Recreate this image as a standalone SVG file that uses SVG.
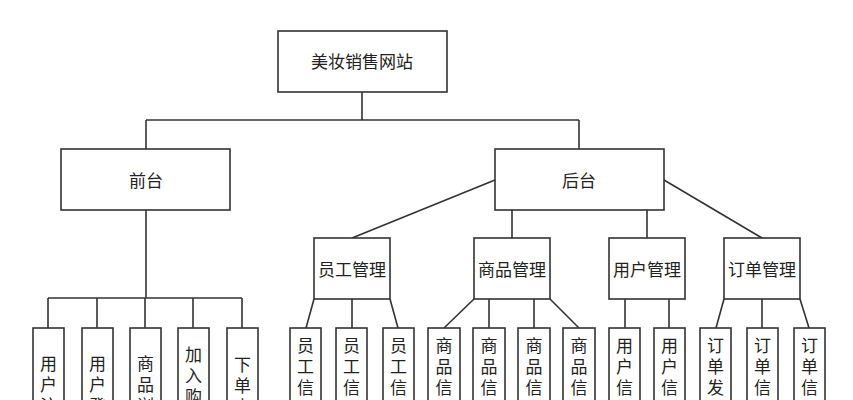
<svg xmlns="http://www.w3.org/2000/svg" width="853" height="400" viewBox="0 0 853 400">
<style>
.n rect{fill:#fff;stroke:#333;stroke-width:1.6}
.c line{stroke:#333;stroke-width:1.6}
text{font-family:"Noto Sans CJK SC","Noto Sans CJK JP",sans-serif;font-size:17px;fill:#222;text-anchor:middle;dominant-baseline:central}
text.v{writing-mode:vertical-rl;text-orientation:upright;text-anchor:start;letter-spacing:4px}
</style>
<rect width="853" height="400" fill="#fff"/>
<g class="c" id="connectors">
<line x1="362" y1="92" x2="362" y2="120"/>
<line x1="146" y1="120" x2="579" y2="120"/>
<line x1="146" y1="120" x2="146" y2="149"/>
<line x1="579" y1="120" x2="579" y2="149"/>
<line x1="146" y1="210" x2="146" y2="298"/>
<line x1="48" y1="298" x2="242" y2="298"/>
<line x1="48" y1="298" x2="48" y2="328"/>
<line x1="97" y1="298" x2="97" y2="328"/>
<line x1="145" y1="298" x2="145" y2="328"/>
<line x1="193" y1="298" x2="193" y2="328"/>
<line x1="242" y1="298" x2="242" y2="328"/>
<line x1="495" y1="180" x2="352" y2="238"/>
<line x1="512" y1="210" x2="512" y2="238"/>
<line x1="647" y1="210" x2="647" y2="238"/>
<line x1="664" y1="180" x2="762" y2="238"/>
<line x1="314" y1="299" x2="306" y2="328"/>
<line x1="352" y1="299" x2="352" y2="328"/>
<line x1="390" y1="299" x2="398" y2="328"/>
<line x1="474" y1="299" x2="444" y2="328"/>
<line x1="489" y1="299" x2="489" y2="328"/>
<line x1="534" y1="299" x2="534" y2="328"/>
<line x1="550" y1="299" x2="579" y2="328"/>
<line x1="625" y1="299" x2="625" y2="328"/>
<line x1="669" y1="299" x2="669" y2="328"/>
<line x1="724" y1="299" x2="716" y2="328"/>
<line x1="762" y1="299" x2="762" y2="328"/>
<line x1="800" y1="299" x2="809" y2="328"/>
</g>
<g class="n">
<g id="root"><rect x="278" y="31" width="169" height="61"/><text x="362" y="60">美妆销售网站</text></g>
<g id="qiantai"><rect x="61" y="149" width="169" height="61"/><text x="146" y="179">前台</text></g>
<g id="houtai"><rect x="495" y="149" width="169" height="61"/><text x="579" y="179">后台</text></g>
<g id="yuangong"><rect x="314" y="238" width="76" height="61"/><text x="352" y="268">员工管理</text></g>
<g id="shangpin"><rect x="474" y="238" width="76" height="61"/><text x="512" y="268">商品管理</text></g>
<g id="yonghu"><rect x="609" y="238" width="76" height="61"/><text x="647" y="268">用户管理</text></g>
<g id="dingdan"><rect x="724" y="238" width="76" height="61"/><text x="762" y="268">订单管理</text></g>

<g id="f1"><rect x="33" y="328" width="31" height="140"/><text class="v" x="48.5" y="355.5">用户注</text></g>
<g id="f2"><rect x="82" y="328" width="31" height="140"/><text class="v" x="97.5" y="355.5">用户登</text></g>
<g id="f3"><rect x="130" y="328" width="31" height="140"/><text class="v" x="145.5" y="355.5">商品浏</text></g>
<g id="f4"><rect x="178" y="328" width="31" height="140"/><text class="v" x="193.5" y="346.5">加入购</text></g>
<g id="f5"><rect x="227" y="328" width="31" height="140"/><text class="v" x="242.5" y="356.5">下单支</text></g>

<g id="e1"><rect x="290" y="328" width="31" height="140"/><text class="v" x="305.5" y="337">员工信息</text></g>
<g id="e2"><rect x="336" y="328" width="31" height="140"/><text class="v" x="351.5" y="337">员工信息</text></g>
<g id="e3"><rect x="383" y="328" width="31" height="140"/><text class="v" x="398.5" y="337">员工信息</text></g>

<g id="s1"><rect x="428" y="328" width="32" height="140"/><text class="v" x="444" y="337">商品信息</text></g>
<g id="s2"><rect x="473" y="328" width="32" height="140"/><text class="v" x="489" y="337">商品信息</text></g>
<g id="s3"><rect x="518" y="328" width="32" height="140"/><text class="v" x="534" y="337">商品信息</text></g>
<g id="s4"><rect x="563" y="328" width="32" height="140"/><text class="v" x="579" y="337">商品信息</text></g>

<g id="u1"><rect x="609" y="328" width="31" height="140"/><text class="v" x="624.5" y="337">用户信息</text></g>
<g id="u2"><rect x="654" y="328" width="31" height="140"/><text class="v" x="669.5" y="337">用户信息</text></g>

<g id="o1"><rect x="700" y="328" width="31" height="140"/><text class="v" x="715.5" y="337">订单发货</text></g>
<g id="o2"><rect x="747" y="328" width="31" height="140"/><text class="v" x="762.5" y="337">订单信息</text></g>
<g id="o3"><rect x="794" y="328" width="31" height="140"/><text class="v" x="809.5" y="337">订单信息</text></g>
</g>
</svg>
